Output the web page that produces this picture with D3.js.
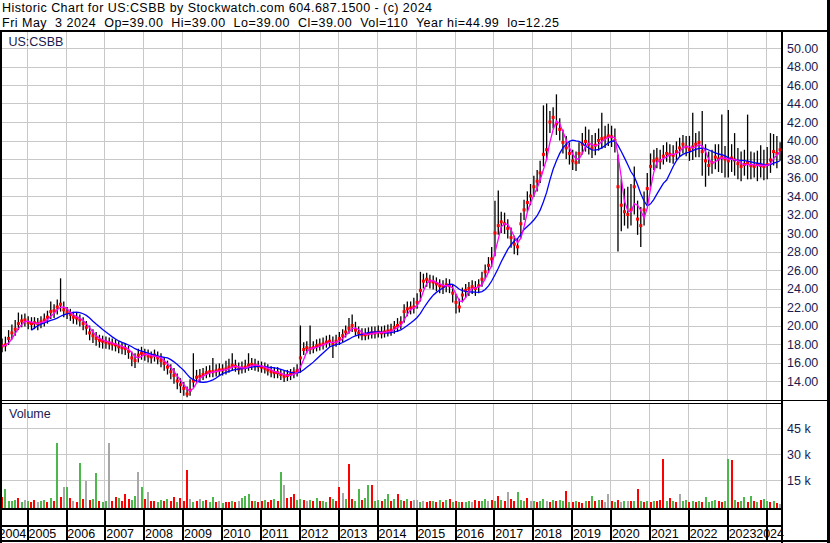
<!DOCTYPE html>
<html><head><meta charset="utf-8">
<script src="https://cdn.jsdelivr.net/npm/d3@7"></script>
<style>html,body{margin:0;padding:0;background:#fff;}svg{display:block;}</style>
</head><body><svg id="c" width="830" height="543"></svg>
<script>
// Monthly data, May 2004 .. May 2024 (241 months)
const startYear = 2004, startMonth = 4;
const closes = [
 17.8,17.9,18.6,19.2,19.6,20.2,20.5,20.6,
 20.3,20.2,20.3,20.2,20.4,20.6,20.9,21.5,21.6,22.0,22.3,21.7,
 21.4,21.2,20.9,20.8,20.6,20.2,19.8,19.2,18.9,18.6,18.4,18.3,
 18.2,18.1,18.0,17.9,17.7,17.6,17.5,17.2,16.5,16.2,16.8,17.0,
 16.9,16.7,16.6,16.8,16.5,16.2,15.9,15.5,15.0,14.6,14.0,13.6,
 13.2,12.6,13.0,14.0,14.4,14.5,14.7,14.9,15.0,15.0,15.1,15.2,
 15.2,15.3,15.5,15.7,15.6,15.3,15.4,15.5,15.7,15.8,15.7,15.6,
 15.5,15.4,15.2,15.0,14.9,14.9,14.7,14.5,14.6,14.7,14.9,15.1,
 16.5,17.4,17.6,17.5,17.6,17.8,17.9,18.0,18.2,18.3,18.0,18.3,
 18.6,18.9,19.3,19.7,20.0,19.5,19.2,19.0,19.0,19.1,19.2,19.2,
 19.3,19.2,19.3,19.4,19.5,19.8,20.0,20.3,21.5,21.8,21.9,22.0,
 22.5,23.8,24.8,25.0,24.8,24.7,24.5,24.3,24.2,24.4,24.3,23.5,
 22.5,22.0,23.3,23.8,24.0,24.2,24.0,24.3,25.0,25.8,26.5,27.2,
 30.0,30.8,31.2,31.0,30.5,29.5,28.8,28.5,31.0,32.5,33.3,34.0,
 35.0,35.6,36.5,38.5,39.0,42.0,42.5,41.8,41.2,39.8,39.2,38.6,
 37.8,37.6,38.6,39.6,39.9,39.6,39.2,39.5,40.0,40.2,40.3,40.5,
 40.4,40.0,35.0,33.0,32.3,32.0,32.5,35.0,31.5,30.8,32.5,34.8,
 37.2,37.8,38.0,37.8,38.3,38.6,38.5,38.4,38.8,39.2,39.6,39.3,
 39.0,39.3,39.6,39.8,38.8,37.8,37.3,37.6,38.2,38.0,38.2,38.0,
 37.8,38.1,37.9,37.5,37.2,37.4,37.6,37.3,37.2,37.4,37.3,37.2,
 37.4,37.9,38.8,38.6,39.0
];
const highs = [
 18.6,18.8,19.5,20.1,20.6,21.4,21.2,21.3,
 21.0,20.9,20.9,20.8,21.0,21.3,21.6,22.6,22.3,22.8,25.1,22.6,
 22.0,21.8,21.5,21.4,21.2,20.9,20.5,20.0,19.6,19.3,19.0,18.9,
 18.8,18.7,18.6,18.5,18.3,18.2,18.1,17.8,17.2,17.0,17.5,17.7,
 17.5,17.4,17.2,17.4,17.2,17.0,16.6,16.2,15.8,15.4,14.8,14.3,
 13.9,13.4,14.2,17.0,15.2,15.3,15.4,15.6,15.7,16.5,15.8,15.9,
 15.8,16.2,16.4,17.0,16.3,16.0,16.1,16.3,17.0,16.5,16.4,16.2,
 16.1,16.0,15.8,15.6,15.5,15.5,15.3,15.1,15.2,15.3,15.5,15.8,
 20.0,18.2,18.3,20.0,18.3,18.5,18.6,18.7,18.9,19.0,18.8,19.0,
 19.3,19.6,20.0,20.8,21.2,20.4,19.9,19.7,19.7,19.8,19.9,19.9,
 20.0,19.9,20.0,20.1,20.2,20.5,20.8,21.0,22.3,22.6,22.6,23.0,
 23.5,25.8,25.6,25.7,25.5,25.4,25.2,25.0,24.9,25.1,25.0,24.4,
 23.4,22.9,24.1,24.5,24.7,24.9,24.8,25.0,25.8,26.6,27.4,28.5,
 33.5,34.6,32.3,32.2,31.5,30.6,29.7,29.4,32.2,33.6,34.5,35.3,
 36.2,36.8,37.8,43.8,44.0,43.2,43.6,44.99,42.4,41.2,40.5,39.8,
 39.0,38.8,39.8,40.8,41.5,41.2,40.6,40.8,41.3,43.0,41.6,41.8,
 41.6,41.3,38.5,35.8,34.8,35.0,35.3,37.2,33.5,32.8,34.5,36.5,
 38.6,39.0,39.2,39.0,39.5,39.8,39.6,39.5,39.9,40.3,40.6,40.5,
 40.5,43.0,40.8,41.0,43.2,39.6,38.8,39.0,39.6,39.6,42.8,39.4,
 43.3,39.6,40.8,39.2,38.8,39.0,42.8,38.8,38.7,38.9,39.5,39.0,
 39.3,40.8,40.7,40.5,39.8
];
const lows = [
 17.1,17.2,17.9,18.5,18.9,19.5,19.8,19.9,
 19.6,19.5,19.6,19.5,19.7,19.9,20.2,20.7,20.8,21.2,21.5,20.9,
 20.7,20.5,20.2,20.1,19.9,19.5,19.0,18.4,18.1,17.8,17.6,17.5,
 17.5,17.4,17.3,17.2,17.0,16.9,16.8,16.4,15.6,15.4,16.0,16.3,
 16.2,16.0,15.9,16.1,15.8,15.5,15.1,14.7,14.2,13.7,13.1,12.7,
 12.4,12.25,12.4,13.3,13.8,13.9,14.1,14.3,14.4,14.4,14.5,14.6,
 14.6,14.7,14.9,15.1,15.0,14.7,14.8,14.9,15.1,15.2,15.1,15.0,
 14.9,14.8,14.6,14.4,14.3,14.3,14.1,13.9,14.0,14.1,14.3,14.5,
 14.9,16.8,17.0,16.9,17.0,17.2,17.3,17.4,17.6,17.7,16.5,17.7,
 17.9,18.2,18.7,19.1,19.3,18.9,18.6,18.4,18.4,18.5,18.6,18.6,
 18.7,18.6,18.7,18.8,18.9,19.1,19.3,19.6,20.3,21.0,21.2,21.3,
 21.8,22.6,24.0,24.2,24.0,23.9,23.7,23.5,23.4,23.6,23.5,22.5,
 21.3,21.4,22.5,23.0,23.2,23.4,23.2,23.5,24.2,25.0,25.7,26.3,
 27.5,29.8,30.0,29.9,29.4,28.4,27.7,27.6,29.5,31.4,32.3,33.0,
 33.9,34.5,35.4,37.2,37.9,40.8,41.3,40.6,40.0,38.6,38.0,37.4,
 36.8,36.7,37.5,38.5,38.8,38.5,38.1,38.4,38.9,39.1,39.2,39.4,
 39.3,38.7,28.0,30.2,30.8,30.5,30.8,32.0,29.8,28.5,30.8,33.0,
 35.0,36.8,37.0,36.9,37.4,37.7,37.6,37.5,37.9,38.3,38.6,38.3,
 37.8,37.9,38.2,38.2,36.2,35.0,36.2,36.4,36.9,36.6,36.5,36.0,
 36.0,36.6,36.2,35.8,35.6,36.2,35.8,35.8,36.0,35.6,36.0,35.7,
 35.8,36.5,37.3,37.0,37.8
];
// volume in thousands (largest weekly bar in each month)
const volumes = [
 5.4,9.8,3.2,2.8,3.5,4.6,2.6,3.9,
 3.0,2.5,3.8,2.2,2.9,3.4,2.6,4.6,3.1,36.3,5.2,11.0,
 11.0,4.8,3.0,2.6,24.8,4.0,14.6,3.5,4.2,19.0,3.0,2.4,
 2.8,36.3,3.3,5.5,4.6,3.0,7.1,4.2,3.4,5.8,19.6,11.3,
 4.0,8.3,2.9,3.2,2.5,3.6,2.8,4.0,3.1,5.4,2.6,4.6,
 3.3,20.9,4.0,2.7,3.1,4.2,2.9,3.4,2.4,5.4,2.2,2.8,
 2.0,2.6,2.3,3.1,2.4,2.9,5.0,6.0,7.0,2.8,3.3,2.5,
 2.9,3.5,2.6,3.8,4.4,3.0,19.6,12.3,4.8,5.2,7.0,3.6,
 4.4,3.6,3.0,3.6,2.8,4.6,3.2,3.1,2.7,5.4,4.0,3.3,
 11.0,7.8,4.2,24.4,4.0,3.1,9.7,3.5,4.6,12.3,12.3,3.0,
 3.6,2.8,4.2,7.0,3.3,4.0,7.3,3.6,2.9,4.1,3.1,3.6,
 3.6,2.6,3.1,2.2,2.8,3.3,2.6,3.5,2.3,3.6,4.3,2.5,
 3.0,2.4,2.7,2.3,3.0,2.6,3.6,2.8,2.9,4.5,3.1,3.4,
 3.2,6.0,3.5,3.1,8.1,4.0,3.2,8.1,3.6,3.1,4.6,2.8,
 3.3,2.6,3.0,4.0,3.2,2.5,3.6,2.8,3.6,3.1,8.8,2.5,
 2.6,3.1,2.3,1.7,2.8,3.3,6.0,2.9,3.4,3.6,2.6,7.0,
 3.0,2.6,3.4,2.2,3.1,3.1,2.8,2.9,9.8,3.1,2.6,3.0,
 2.3,2.8,3.1,3.6,27.3,3.0,5.0,3.1,2.6,7.0,3.3,3.6,
 2.5,3.1,2.7,3.1,2.4,5.5,2.3,3.1,3.6,2.8,2.6,3.1,
 27.3,26.7,3.5,2.3,3.1,5.4,2.7,5.9,3.0,2.6,3.4,4.0,
 3.0,2.3,2.8,2.0,1.5
];
// bar colour class for each month: u = up (green), d = down (red), n = unchanged (grey)
const volDir = [
 "duuuudun",
 "uddnuudududn",
 "udndudnduudu",
 "undduddduunu",
 "dndduududdud",
 "ddnudnuduudn",
 "uddudnuuudud",
 "duddudundddu",
 "udnududuudud",
 "dnudduuduudu",
 "uduududududn",
 "nunddudududu",
 "duduundduund",
 "ududndduuudn",
 "uduunduduudu",
 "duddudududnn",
 "dudnundududu",
 "dudddududnuu",
 "dududuuuuddu",
 "ududuudududu",
 "ududn"
].join("").split("");
const priceTicks = [14,16,18,20,22,24,26,28,30,32,34,36,38,40,42,44,46,48,50];
const volTicks = [15,30,45];
const volTickLabels = ["15 k","30 k","45 k"];
const years = d3.range(2004, 2025);
const titleLine1 = "Historic Chart for US:CSBB by Stockwatch.com 604.687.1500 - (c) 2024";
const titleLine2 = "Fri May  3 2024  Op=39.00  Hi=39.00  Lo=39.00  Cl=39.00  Vol=110  Year hi=44.99  lo=12.25";
const symbol = "US:CSBB";

// ---------- drawing ----------
const svg = d3.select("#c");
const FONT = "'Liberation Sans', Arial, sans-serif";
const plotL = 2, plotR = 781, mainT = 32, mainB = 400, volT = 403, volB = 509;

const dates = closes.map((_, i) => new Date(startYear, startMonth + i, 15));
const data = closes.map((c, i) => ({d: dates[i], c, h: highs[i], l: lows[i], v: volumes[i], dir: volDir[i] || "n"}));

const x = d3.scaleTime().domain([new Date(2005,0,1), new Date(2024,0,1)]).range([26.7, 765.7]);
const y = d3.scaleLinear().domain([14, 50]).range([381, 48]);
const yV = d3.scaleLinear().domain([0, 60]).range([506.3, 402.3]);

svg.append("rect").attr("width", 830).attr("height", 543).attr("fill", "#fff");

const defs = svg.append("defs");
defs.append("clipPath").attr("id","cpMain").append("rect").attr("x",plotL).attr("y",mainT).attr("width",plotR-plotL).attr("height",mainB-mainT);
defs.append("clipPath").attr("id","cpVol").append("rect").attr("x",plotL).attr("y",volT+1).attr("width",plotR-plotL).attr("height",volB-volT-1);

const grid = svg.append("g").attr("stroke","#c8c8c8").attr("stroke-width",1).attr("shape-rendering","crispEdges");
priceTicks.forEach(t => grid.append("line").attr("x1",plotL).attr("x2",plotR).attr("y1",Math.round(y(t))+0.5).attr("y2",Math.round(y(t))+0.5));
volTicks.forEach(t => grid.append("line").attr("x1",plotL).attr("x2",plotR).attr("y1",Math.round(yV(t))+0.5).attr("y2",Math.round(yV(t))+0.5));
years.slice(1).forEach(yr => {
  const xx = Math.round(x(new Date(yr,0,1))) + 0.5;
  grid.append("line").attr("x1",xx).attr("x2",xx).attr("y1",mainT).attr("y2",mainB);
  grid.append("line").attr("x1",xx).attr("x2",xx).attr("y1",volT).attr("y2",volB);
});

// volume bars
const volColor = {u:"#4cb84c", d:"#ff0000", n:"#a8a8a8"};
svg.append("g").attr("clip-path","url(#cpVol)").selectAll("rect").data(data).join("rect")
  .attr("x", d => x(d.d) - 1).attr("width", 2)
  .attr("y", d => yV(d.v)).attr("height", d => volB - yV(d.v))
  .attr("fill", d => volColor[d.dir]).attr("shape-rendering","crispEdges");

// price bars
const pg = svg.append("g").attr("clip-path","url(#cpMain)");
pg.selectAll("line.bar").data(data).join("line").attr("class","bar")
  .attr("x1", d => x(d.d)).attr("x2", d => x(d.d))
  .attr("y1", d => y(d.h)).attr("y2", d => y(d.l))
  .attr("stroke","#000").attr("stroke-width",1.3);
pg.selectAll("rect.cl").data(data).join("rect").attr("class","cl")
  .attr("x", d => x(d.d) - 1.5).attr("y", d => y(d.c) - 1.5)
  .attr("width",3).attr("height",3).attr("fill","#ff0000");

// moving averages of the closes
function sma(n, full) {
  return data.map((d, i) => {
    if (full && i < n - 1) return null;
    const s = closes.slice(Math.max(0, i - n + 1), i + 1);
    return {d: d.d, v: d3.mean(s)};
  }).filter(Boolean);
}
const line = d3.line().x(p => x(p.d)).y(p => y(p.v));
pg.append("path").datum(sma(10, true)).attr("d", line).attr("fill","none").attr("stroke","#0000ff").attr("stroke-width",1.3);
pg.append("path").datum(sma(3, false)).attr("d", line).attr("fill","none").attr("stroke","#ff00ff").attr("stroke-width",1.3);

// frame
const fr = svg.append("g").attr("fill","#000").attr("shape-rendering","crispEdges");
fr.append("rect").attr("x",0).attr("y",30).attr("width",830).attr("height",2);
fr.append("rect").attr("x",0).attr("y",30).attr("width",2).attr("height",513);
fr.append("rect").attr("x",827).attr("y",0).attr("width",3).attr("height",543);
fr.append("rect").attr("x",781).attr("y",30).attr("width",2).attr("height",513);
fr.append("rect").attr("x",0).attr("y",400).attr("width",830).attr("height",1);
fr.append("rect").attr("x",0).attr("y",403).attr("width",783).attr("height",1);
fr.append("rect").attr("x",0).attr("y",508).attr("width",783).attr("height",2);
fr.append("rect").attr("x",0).attr("y",525).attr("width",783).attr("height",2);
fr.append("rect").attr("x",0).attr("y",540).attr("width",830).attr("height",2);
years.slice(1).forEach(yr => {
  const xx = Math.round(x(new Date(yr,0,1)));
  fr.append("rect").attr("x",xx-0.5).attr("y",509).attr("width",2).attr("height",32);
});

// texts
const tx = svg.append("g").attr("font-family",FONT).attr("font-size","12.5px");
tx.append("text").attr("x",2).attr("y",11.5).attr("fill","#000").style("white-space","pre")
  .attr("textLength",430).attr("lengthAdjust","spacing").text(titleLine1);
tx.append("text").attr("x",2).attr("y",26.5).attr("fill","#000").style("white-space","pre")
  .attr("textLength",557).attr("lengthAdjust","spacing").text(titleLine2);
tx.append("text").attr("x",8.5).attr("y",46).attr("fill","#1a1a50").text(symbol);
tx.append("text").attr("x",9).attr("y",418).attr("fill","#1a1a50").text("Volume");
priceTicks.forEach(t => tx.append("text").attr("x",787).attr("y",y(t)+4.5).attr("fill","#1a1a50").text(t.toFixed(2)));
volTicks.forEach((t,i) => tx.append("text").attr("x",787).attr("y",yV(t)+4.5).attr("fill","#1a1a50").text(volTickLabels[i]));
years.forEach((yr, i) => {
  const xx = x(new Date(yr,0,1));
  const t = tx.append("text").attr("y",538).attr("fill","#000").text(String(yr));
  if (i === 0) t.attr("x", -1.5);
  else if (i === years.length - 1) t.attr("x", 784).attr("text-anchor","end");
  else t.attr("x", xx + 1.8);
});
</script></body></html>
